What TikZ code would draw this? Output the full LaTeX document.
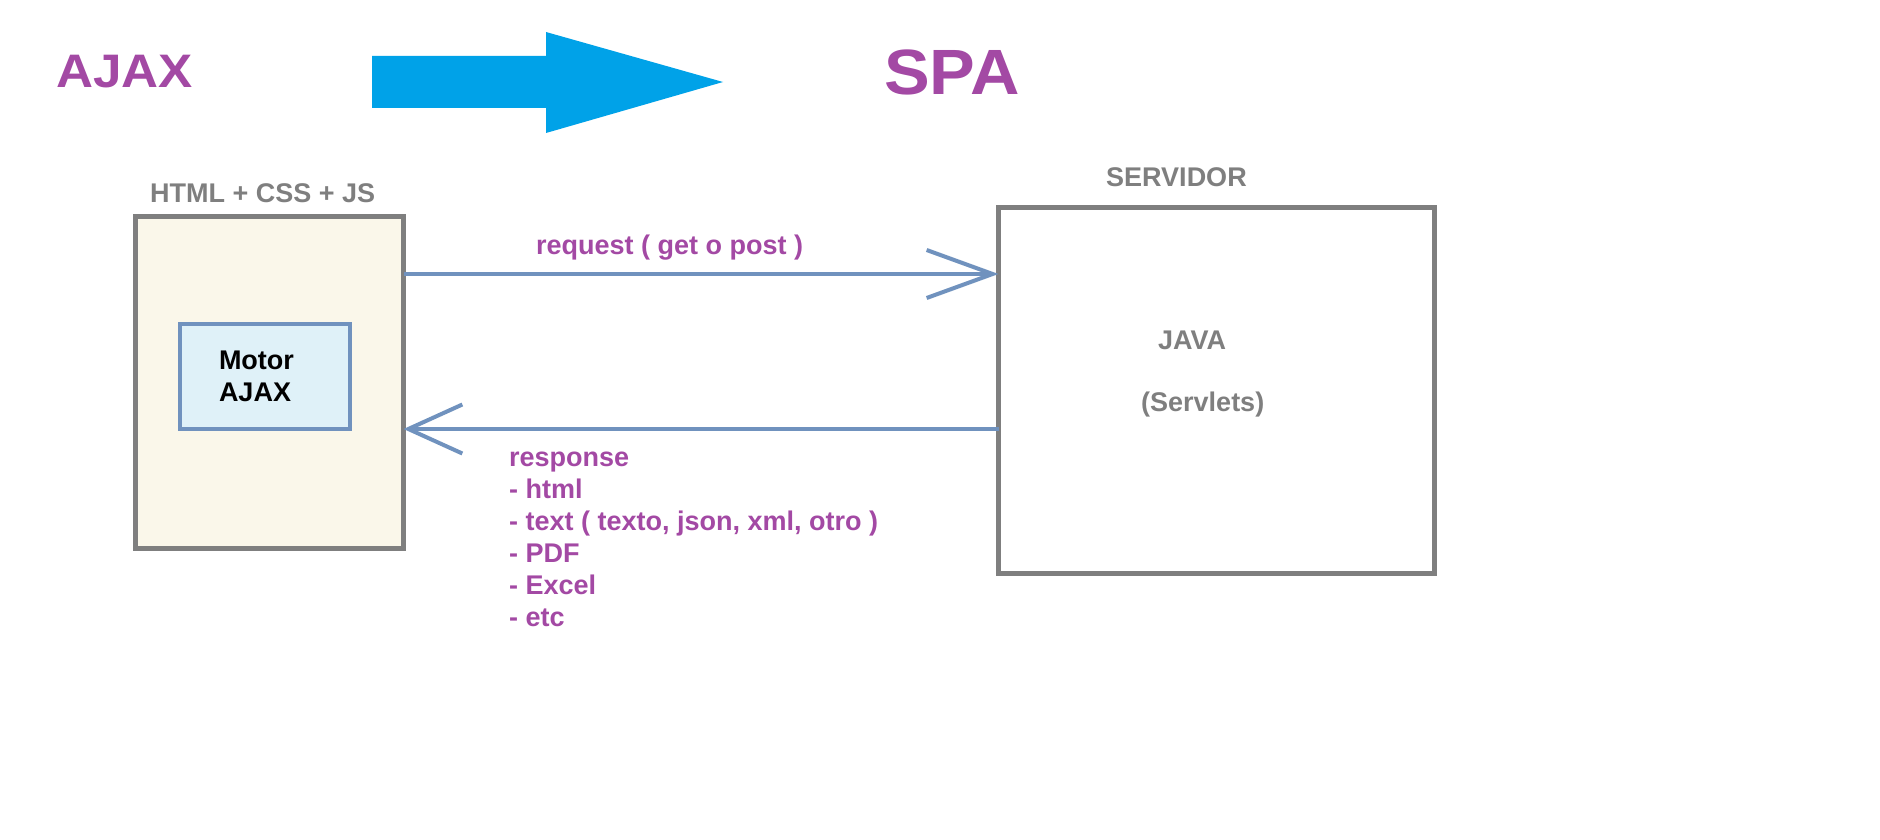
\documentclass[tikz,border=0pt]{standalone}
\usepackage{fontspec}
\setmainfont{Liberation Sans}
\usetikzlibrary{arrows.meta}
\definecolor{ppurple}{HTML}{A349A4}
\definecolor{arrowblue}{HTML}{00A2E8}
\definecolor{boxgray}{HTML}{7F7F7F}
\definecolor{linkblue}{HTML}{7092BE}
\definecolor{cream}{HTML}{FAF7EA}
\definecolor{lightblue}{HTML}{DFF1F8}
\begin{document}
\begin{tikzpicture}[x=1pt,y=-1pt,
  txt/.style={font=\fontsize{27}{32}\selectfont\bfseries, inner sep=0pt, anchor=base west},
  title/.style={text=ppurple, inner sep=0pt, anchor=base west},
  box/.style={draw=boxgray, line width=4.5pt, inner sep=0pt, outer sep=0pt},
  conn/.style={draw=linkblue, line width=4pt},
]
\fill[white] (0,0) rectangle (1880,840);
\useasboundingbox (0,0) rectangle (1880,840);

% big arrow AJAX -> SPA
\fill[arrowblue] (372,56) -- (546,56) -- (546,32) -- (723,82) -- (546,133) -- (546,108) -- (372,108) -- cycle;

\node[title, font=\fontsize{47}{50}\selectfont\bfseries, xscale=1.09] (ajax) at (56,88) {AJAX};
\node[title, font=\fontsize{64}{70}\selectfont\bfseries, xscale=1.07] (spa) at (884,95) {SPA};

% client box
\node[box, fill=cream, minimum width=268pt, minimum height=332pt] (client) at (269.5,382.5) {};
\node[txt, text=boxgray] (clientlbl) at (150,202) {HTML + CSS + JS};
\node[box, draw=linkblue, line width=4pt, fill=lightblue, minimum width=170pt, minimum height=105pt,
      text width=92pt, align=left, font=\fontsize{27}{32}\selectfont\bfseries] (motor) at (265,376.5) {Motor\\AJAX};

% server box
\node[box, fill=white, minimum width=436pt, minimum height=366pt] (server) at (1216.5,390.5) {};
\node[txt, text=boxgray] (serverlbl) at (1106,186) {SERVIDOR};
\node[txt, text=boxgray] (java) at (1158,349) {JAVA};
\node[txt, text=boxgray] (servlets) at (1141,411) {(Servlets)};

% connectors
\draw[conn, -{Straight Barb[length=66pt,width=48pt]}] (client.east |- 0,274) -- (server.west |- 0,274);
\draw[conn, -{Straight Barb[length=54pt,width=49pt]}] (server.west |- 0,429) -- (client.east |- 0,429);

\node[txt, text=ppurple] (req) at (536,254) {request ( get o post )};
\node[txt, text=ppurple, align=left] (resp) at (509,626) {response\\- html\\- text ( texto, json, xml, otro )\\- PDF\\- Excel\\- etc};
\end{tikzpicture}
\end{document}
